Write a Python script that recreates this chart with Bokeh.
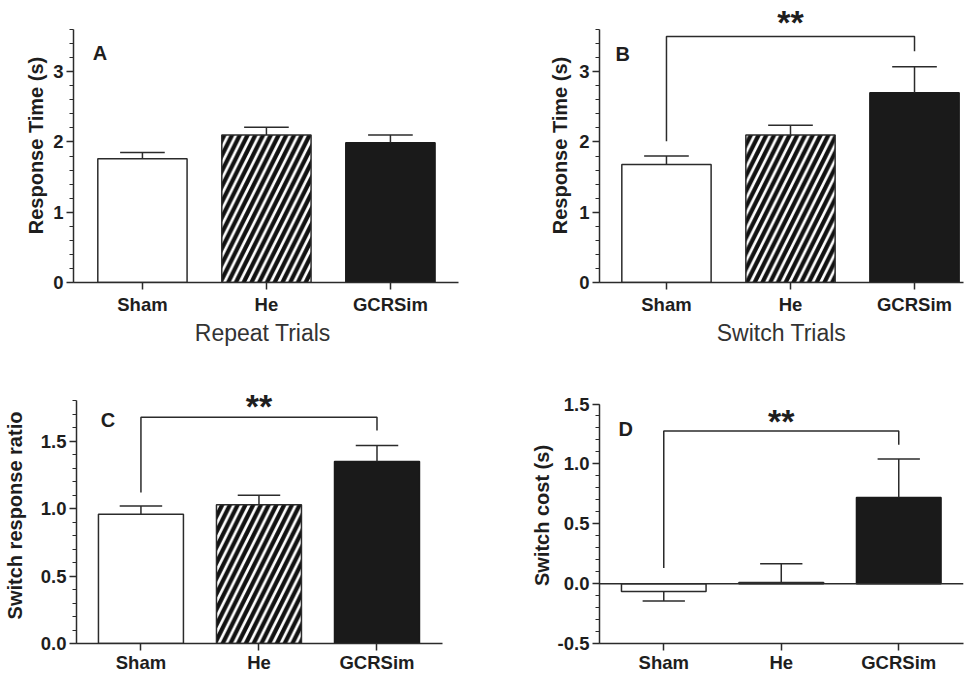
import numpy as np
from bokeh.plotting import figure
from bokeh.models import FixedTicker, Label, Span, PrintfTickFormatter, Range1d
from bokeh.layouts import row, column
from bokeh.embed import file_html
from bokeh.resources import INLINE

# ---------------- data ----------------
groups = ["Sham", "He", "GCRSim"]

repeat_mean = [1.76, 2.10, 1.99]
repeat_sem = [0.09, 0.11, 0.11]

switch_mean = [1.68, 2.10, 2.70]
switch_sem = [0.12, 0.14, 0.37]

ratio_mean = [0.96, 1.03, 1.35]
ratio_sem = [0.06, 0.07, 0.12]

cost_mean = [-0.065, 0.01, 0.72]
cost_sem = [0.08, 0.155, 0.32]

# significance brackets: [left leg end, bracket level, right leg end, star level]
switch_sig = [2.01, 3.50, 3.29, 3.71]
ratio_sig = [1.12, 1.68, 1.58, 1.76]
cost_sig = [0.13, 1.275, 1.16, 1.355]
sig_text = "**"

FONT = "Liberation Sans"
AXC = "#2b2b2b"
TXT = "#1e1e1e"

bar_styles = [
    dict(fill_color="white", line_color=AXC),
    dict(fill_color="white", line_color=AXC, hatch_pattern="/", hatch_color="#111111",
         hatch_scale=15.5, hatch_weight=4.2),
    dict(fill_color="#1a1a1a", line_color="#1a1a1a"),
]


def panel(width, height, borders, xr, yr, ybounds, majors, minor_step, fmt, ylabel, ylab_standoff,
          means, sems, letter, letter_xy, xlabel=None, sig=None, zero_line=False):
    bl, br, bt, bb = borders
    p = figure(width=width, height=height, output_backend="svg", toolbar_location=None,
               x_range=Range1d(*xr), y_range=Range1d(*yr),
               min_border_left=bl, min_border_right=br, min_border_top=bt, min_border_bottom=bb)
    p.outline_line_color = None
    p.grid.grid_line_color = None
    p.background_fill_color = "white"
    p.border_fill_color = "white"

    xs = list(range(len(groups)))
    for i in xs:
        p.vbar(x=[xs[i]], top=[means[i]], bottom=0, width=0.72, line_width=1.5, **bar_styles[i])

    # error bars (one-sided, away from zero)
    ends = [m + (s if m >= 0 else -s) for m, s in zip(means, sems)]
    p.segment(x0=xs, y0=means, x1=xs, y1=ends, line_color=AXC, line_width=1.5)
    p.segment(x0=[x - 0.18 for x in xs], y0=ends, x1=[x + 0.18 for x in xs], y1=ends,
              line_color=AXC, line_width=1.5)

    if zero_line:
        p.add_layout(Span(location=0, dimension="width", line_color=AXC, line_width=1.5))

    if sig is not None:
        p.line(x=[xs[0], xs[0], xs[2], xs[2]], y=[sig[0], sig[1], sig[1], sig[2]],
               line_color=AXC, line_width=1.5)
        p.add_layout(Label(x=xs[1], y=sig[3], text=sig_text, text_align="center",
                           text_baseline="alphabetic", text_font=FONT, text_font_size="34px",
                           text_font_style="bold", text_color=TXT))

    p.add_layout(Label(x=letter_xy[0], y=letter_xy[1], text=letter, text_align="left",
                       text_baseline="middle", text_font=FONT, text_font_size="20px",
                       text_font_style="bold", text_color=TXT))

    # y axis
    ya = p.yaxis[0]
    minors = [round(v, 3) for v in np.arange(ybounds[0], ybounds[1] + 1e-9, minor_step)]
    ya.ticker = FixedTicker(ticks=majors, minor_ticks=minors)
    ya.bounds = ybounds
    ya.formatter = PrintfTickFormatter(format=fmt)
    ya.axis_line_color = AXC
    ya.axis_line_width = 1.5
    ya.major_tick_line_color = AXC
    ya.major_tick_line_width = 1.5
    ya.major_tick_out = 7
    ya.major_tick_in = 0
    ya.minor_tick_line_color = AXC
    ya.minor_tick_line_width = 1.2
    ya.minor_tick_out = 4
    ya.minor_tick_in = 0
    ya.major_label_standoff = 3
    ya.major_label_text_font = FONT
    ya.major_label_text_font_size = "18.5px"
    ya.major_label_text_font_style = "bold"
    ya.major_label_text_color = TXT
    ya.axis_label = ylabel
    ya.axis_label_text_font = FONT
    ya.axis_label_text_font_size = "20px"
    ya.axis_label_text_font_style = "bold"
    ya.axis_label_text_color = TXT
    ya.axis_label_standoff = ylab_standoff

    # x axis
    xa = p.xaxis[0]
    xa.ticker = FixedTicker(ticks=xs)
    xa.major_label_overrides = {i: g for i, g in enumerate(groups)}
    xa.axis_line_color = AXC
    xa.axis_line_width = 1.5
    xa.major_tick_line_color = AXC
    xa.major_tick_line_width = 1.5
    xa.major_tick_out = 7
    xa.major_tick_in = 0
    xa.minor_tick_line_color = None
    xa.major_label_standoff = 4 if xlabel else 1
    xa.major_label_text_font = FONT
    xa.major_label_text_font_size = "18.5px"
    xa.major_label_text_font_style = "bold"
    xa.major_label_text_color = TXT
    if xlabel:
        xa.axis_label = xlabel
        xa.axis_label_text_font = FONT
        xa.axis_label_text_font_size = "23px"
        xa.axis_label_text_font_style = "normal"
        xa.axis_label_text_color = "#333333"
        xa.axis_label_standoff = 2
    return p


pA = panel(480, 350, (73, 22, 8, 68), (-0.556, 2.549), (0, 3.9), (0, 3.6), [0, 1, 2, 3], 0.2,
           "%d", "Response Time (s)", 3, repeat_mean, repeat_sem, "A", (-0.40, 3.27),
           xlabel="Repeat  Trials")
pB = panel(490, 350, (119, 7, 8, 68), (-0.540, 2.395), (0, 3.9), (0, 3.6), [0, 1, 2, 3], 0.2,
           "%d", "Response Time (s)", 5, switch_mean, switch_sem, "B", (-0.41, 3.25),
           xlabel="Switch Trials", sig=switch_sig)
pC = panel(480, 325, (73, 38, 37, 30), (-0.546, 2.555), (0, 1.9), (0, 1.8), [0, 0.5, 1.0, 1.5],
           0.1, "%.1f", "Switch response ratio", 12, ratio_mean, ratio_sem, "C", (-0.34, 1.66),
           sig=ratio_sig)
pD = panel(490, 325, (119, 7, 37, 30), (-0.547, 2.551), (-0.5, 1.638), (-0.5, 1.5),
           [-0.5, 0, 0.5, 1.0, 1.5], 0.1, "%.1f", "Switch cost (s)", 2, cost_mean, cost_sem,
           "D", (-0.385, 1.295), sig=cost_sig, zero_line=True)

layout = column(row(pA, pB), row(pC, pD))
open("out.html", "w").write(file_html(layout, INLINE))
